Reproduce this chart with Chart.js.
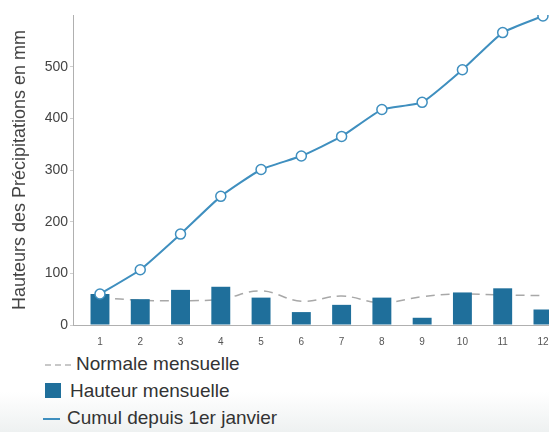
<!DOCTYPE html>
<html>
<head>
<meta charset="utf-8">
<script src="https://cdn.jsdelivr.net/npm/chart.js@4/dist/chart.umd.min.js"></script>
<style>
  html, body { margin: 0; padding: 0; }
  body {
    width: 549px; height: 432px; overflow: hidden; position: relative;
    font-family: "Liberation Sans", Arial, sans-serif;
    background: linear-gradient(to bottom, #ffffff 0px, #ffffff 392px, #eef1f1 432px);
  }
  #wrap { position: absolute; left: 0; top: 0; width: 549px; height: 345px; }
  #legend { position: absolute; left: 43px; top: 350px; color: #333; font-size: 19px; }
  .item { position: relative; height: 27px; line-height: 27px; white-space: nowrap; }
  .icon { position: absolute; top: 0; height: 27px; }
</style>
</head>
<body>
<div id="wrap"><canvas id="myChart"></canvas></div>
<div id="legend"></div>
<script>
const mois = [1, 2, 3, 4, 5, 6, 7, 8, 9, 10, 11, 12];
const normale = [53, 48, 47, 50, 66, 46, 56, 43, 55, 60, 58, 57];
const hauteur = [60, 50, 68, 74, 53, 25, 39, 53, 14, 63, 71, 30];
const cumul = [60, 107, 176, 249, 301, 327, 365, 417, 431, 494, 566, 598];
const yTicks = [0, 100, 200, 300, 400, 500];

const labelNormale = "Normale mensuelle";
const labelHauteur = "Hauteur mensuelle";
const labelCumul = "Cumul depuis 1er janvier";

const myChart = document.getElementById("myChart");
const divLegend = document.getElementById("legend");

const toPoints = (values) => values.map((v, i) => ({ x: mois[i], y: v }));

const data = {
    datasets: [
        {
            type: "line",
            label: labelNormale,
            data: toPoints(normale),
            borderColor: "#a8a8a8",
            borderWidth: 1.5,
            borderDash: [9, 6],
            pointRadius: 0,
            tension: 0.4,
            order: 3,
        },
        {
            type: "bar",
            label: labelHauteur,
            data: toPoints(hauteur),
            backgroundColor: "#1f6f9b",
            barPercentage: 0.47,
            categoryPercentage: 1,
            order: 2,
        },
        {
            type: "line",
            label: labelCumul,
            data: toPoints(cumul),
            borderColor: "#3f8fbf",
            borderWidth: 2,
            pointRadius: 5,
            pointBackgroundColor: "#ffffff",
            pointBorderColor: "#3f8fbf",
            pointBorderWidth: 1.5,
            tension: 0.15,
            order: 1,
        },
    ],
};

const config = {
    type: "bar",
    data,
    options: {
        responsive: true,
        maintainAspectRatio: false,
        animation: false,
        layout: { padding: { top: 15, left: 0, right: 0, bottom: 0 }, autoPadding: false },
        plugins: { legend: { display: false }, tooltip: { enabled: false } },
        scales: {
            x: {
                type: "linear",
                min: 0.33,
                max: 12.15,
                offset: false,
                afterBuildTicks: (s) => { s.ticks = mois.map((v) => ({ value: v })); },
                grid: { display: false },
                border: { display: true, color: "#b0b0b0", width: 1 },
                ticks: { color: "#555", font: { family: "Liberation Sans", size: 10 }, padding: 3, maxRotation: 0, autoSkip: false },
                afterFit: (s) => { s.height = 20; s.paddingLeft = 0; s.paddingRight = 0; },
            },
            y: {
                min: 0,
                max: 600,
                afterBuildTicks: (s) => { s.ticks = yTicks.map((v) => ({ value: v })); },
                grid: { drawOnChartArea: false, drawTicks: true, tickLength: 3, color: "#cfcfcf" },
                border: { display: true, color: "#b0b0b0", width: 1 },
                ticks: { color: "#444", font: { family: "Liberation Sans", size: 14 }, padding: 2 },
                title: {
                    display: true,
                    text: "Hauteurs des Précipitations en mm",
                    color: "#444",
                    font: { family: "Liberation Sans", size: 18 },
                    padding: { top: 9, bottom: 0 },
                },
                afterFit: (s) => { s.width = 73; s.paddingTop = 0; s.paddingBottom = 0; },
            },
        },
    },
};

const chart = new Chart(myChart, config);

function renderLegend() {
    let html = "";
    for (let ds of chart.data.datasets) {
        if (ds.type == "bar") {
            html += `<div class="item"><span class="icon" style="left:2px;"><span style="display:inline-block;width:16px;height:15px;background:${ds.backgroundColor};vertical-align:middle;margin-top:-3px"></span></span><span style="margin-left:27px">${ds.label}</span></div>`;
        } else if (ds.borderDash) {
            html += `<div class="item"><span class="icon" style="left:2px;"><span style="display:inline-block;width:26px;border-top:2px dashed #c8c8c8;vertical-align:middle"></span></span><span style="margin-left:33px">${ds.label}</span></div>`;
        } else {
            html += `<div class="item"><span class="icon" style="left:0px;"><span style="display:inline-block;width:17px;border-top:2px solid ${ds.borderColor};vertical-align:middle"></span></span><span style="margin-left:24px">${ds.label}</span></div>`;
        }
    }
    divLegend.innerHTML = html;
}

renderLegend();
</script>
</body>
</html>
